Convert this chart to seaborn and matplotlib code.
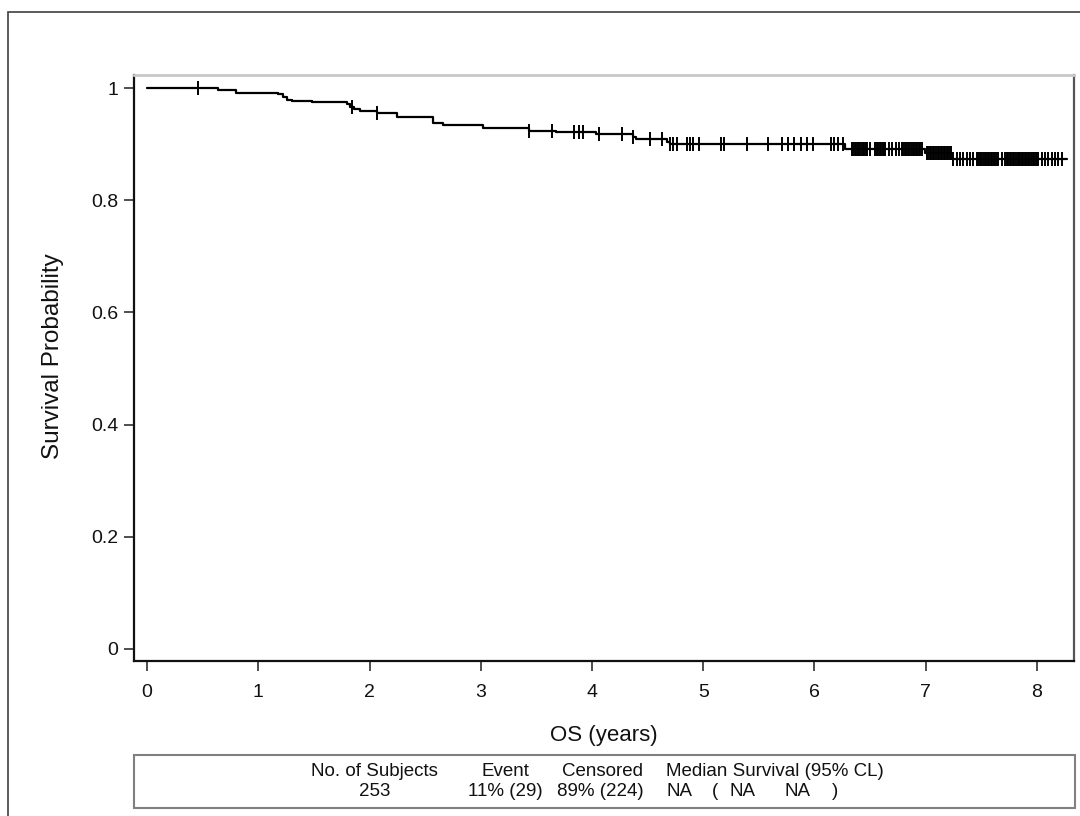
import numpy as np
import matplotlib
matplotlib.use('Agg')
import matplotlib.pyplot as plt
import seaborn as sns
import pandas as pd
from matplotlib.patches import Rectangle

# Kaplan-Meier step curve (time in years, survival probability)
step_times = [0.0, 0.64, 0.80, 1.18, 1.22, 1.26, 1.30, 1.48, 1.795, 1.825, 1.86, 1.915,
              2.065, 2.245, 2.574, 2.664, 3.023, 3.43, 3.68, 4.04, 4.37, 4.40, 4.67, 4.70,
              6.27, 6.99, 7.233, 8.27]
step_surv = [1.0, 0.996, 0.992, 0.989, 0.9845, 0.9786, 0.977, 0.9745, 0.971, 0.967, 0.962, 0.9596,
             0.955, 0.949, 0.938, 0.934, 0.928, 0.924, 0.9216, 0.9175, 0.913, 0.909, 0.904, 0.901,
             0.891, 0.8835, 0.873, 0.873]

# Censored observation times
censor_times = [0.46, 1.84, 2.065, 3.43, 3.64, 3.84, 3.88, 3.92, 4.06, 4.27, 4.37, 4.52, 4.63,
                4.70, 4.73, 4.76, 4.85, 4.88, 4.91, 4.96, 5.16, 5.19, 5.39, 5.585, 5.71, 5.76,
                5.82, 5.88, 5.93, 5.99, 6.15, 6.18, 6.21, 6.26,
                6.334, 6.348, 6.362, 6.376, 6.39, 6.404, 6.418, 6.432, 6.446, 6.46, 6.469,
                6.499,
                6.544, 6.558, 6.572, 6.586, 6.60, 6.614, 6.628, 6.634,
                6.673, 6.70, 6.73, 6.76,
                6.784, 6.798, 6.812, 6.826, 6.84, 6.854, 6.868, 6.882, 6.896, 6.91, 6.924,
                6.938, 6.952, 6.964,
                7.008, 7.022, 7.036, 7.05, 7.064, 7.078, 7.092, 7.106, 7.12, 7.134, 7.148,
                7.162, 7.176, 7.19, 7.204, 7.218, 7.23,
                7.248, 7.278, 7.308, 7.338, 7.368, 7.398, 7.428, 7.458,
                7.473, 7.487, 7.501, 7.515, 7.529, 7.543, 7.557, 7.571, 7.585, 7.599, 7.613,
                7.627, 7.638,
                7.653, 7.683, 7.712,
                7.728, 7.742, 7.756, 7.77, 7.784, 7.798, 7.812, 7.826, 7.84, 7.847,
                7.862, 7.876, 7.89, 7.904, 7.918, 7.932, 7.946, 7.96, 7.974, 7.988, 7.997,
                8.012, 8.042, 8.072, 8.102, 8.132, 8.162, 8.192, 8.222]

x_ticks = [0, 1, 2, 3, 4, 5, 6, 7, 8]
y_ticks = [0, 0.2, 0.4, 0.6, 0.8, 1.0]
y_tick_labels = ['0', '0.2', '0.4', '0.6', '0.8', '1']

table_header = ["No. of Subjects", "Event", "Censored", "Median Survival (95% CL)"]
table_row = ["253", "11% (29)", "89% (224)", "NA", "(", "NA", "NA", ")"]

W, H = 1080, 816
header_x = [374, 505, 602, 774.5]
row_x = [374.5, 505, 600, 679, 715, 742.5, 797, 835]

sns.set_theme(style='ticks')
plt.rcParams['font.family'] = ['Liberation Sans', 'DejaVu Sans']

fig = plt.figure(figsize=(10.8, 8.16), dpi=100)
ax = fig.add_axes([134 / W, 1 - 661 / H, (1074 - 134) / W, (661 - 75) / H])

curve = pd.DataFrame({'t': step_times, 's': step_surv})
sns.lineplot(data=curve, x='t', y='s', drawstyle='steps-post', color='black',
             linewidth=1.6, ax=ax, estimator=None, sort=False)

idx = np.searchsorted(np.array(step_times), np.array(censor_times), side='right') - 1
cens = pd.DataFrame({'t': censor_times, 's': np.array(step_surv)[idx]})
sns.scatterplot(data=cens, x='t', y='s', marker='|', s=95, color='black',
                linewidth=1.4, ax=ax, zorder=3, legend=False)

ax.set_xlim(-0.117, 8.333)
ax.set_ylim(-0.0214, 1.0232)
ax.set_xticks(x_ticks)
ax.set_xticklabels([str(v) for v in x_ticks])
ax.set_yticks(y_ticks)
ax.set_yticklabels(y_tick_labels)
ax.tick_params(axis='both', direction='out', length=7.5, width=1.2, colors='#303030',
               labelcolor='#111111', labelsize=14)
ax.tick_params(axis='x', pad=9)
ax.tick_params(axis='y', pad=4)
ax.set_xlabel('')
ax.set_ylabel('Survival Probability', fontsize=17.5, color='#111111')
ax.yaxis.set_label_coords((64 - 134) / 940, 0.52)

for side in ['left', 'bottom']:
    ax.spines[side].set_color('#111111')
    ax.spines[side].set_linewidth(1.6)
ax.spines['top'].set_color('#c8c8c8')
ax.spines['top'].set_linewidth(2)
ax.spines['right'].set_color('#555555')
ax.spines['right'].set_linewidth(1.6)

fig.text(604 / W, 1 - 735 / H, 'OS (years)', ha='center', va='center', fontsize=16,
         color='#111111')

# summary table box
fig.patches.append(Rectangle((134 / W, 1 - 808 / H), (1075 - 134) / W, (808 - 755) / H,
                             transform=fig.transFigure, fill=False, edgecolor='#808080',
                             linewidth=1.5))
for txt, xp in zip(table_header, header_x):
    fig.text(xp / W, 1 - 772 / H, txt, ha='center', va='center', fontsize=13.5, color='#111111')
for txt, xp in zip(table_row, row_x):
    fig.text(xp / W, 1 - 791 / H, txt, ha='center', va='center', fontsize=13.5, color='#111111')

# outer frame
fig.patches.append(Rectangle((8 / W, -0.1), 1.2, 0.1 + (1 - 12 / H),
                             transform=fig.transFigure, fill=False, edgecolor='#404040',
                             linewidth=1.2, clip_on=False))

fig.savefig('out.png', dpi=100)
